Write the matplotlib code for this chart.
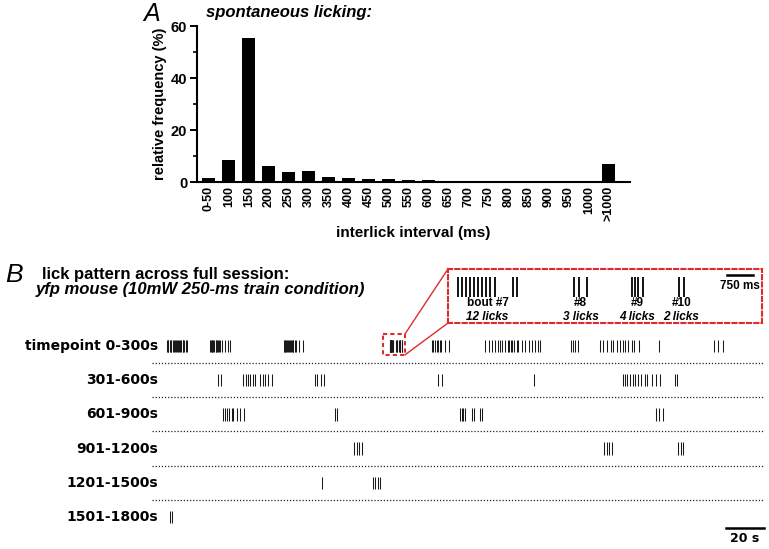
import numpy as np
import matplotlib
matplotlib.use('Agg')
import matplotlib.pyplot as plt
from matplotlib.patches import Rectangle, ConnectionPatch
from matplotlib.transforms import blended_transform_factory

# ---- panel A data: interlick interval histogram
ili_bins = ['0-50', '100', '150', '200', '250', '300', '350', '400', '450', '500',
            '550', '600', '650', '700', '750', '800', '850', '900', '950', '1000', '>1000']
ili_freq = [1.5, 8.3, 55.4, 6.2, 3.7, 4.1, 1.8, 1.5, 1.3, 1.0,
            0.8, 0.6, 0.5, 0.35, 0.25, 0.25, 0.1, 0.1, 0.1, 0.05, 7.1]

# ---- panel B data: lick times (s, within each 300 s row)
row_labels = ['timepoint 0-300s', '301-600s', '601-900s', '901-1200s', '1201-1500s', '1501-1800s']

row0_licks = [1.0, 1.4, 1.8, 2.6, 3.0, 3.4, 4.3, 4.7, 5.1, 5.9, 6.3, 6.7, 7.6, 8.0, 8.4,
              9.3, 9.7, 10.1, 10.9, 11.4,
              23.7, 24.1, 24.5, 25.0, 25.4, 25.8, 26.6, 27.0, 27.4, 28.0, 28.4, 29.1,
              30.2, 31.6, 33.2, 34.2,
              62.6, 63.0, 63.4, 63.9, 64.3, 64.7, 65.5, 65.9, 66.3, 66.8, 67.2, 67.6,
              68.4, 68.8, 70.5, 72.6,
              140.5, 141.1, 142.1, 143.2, 143.7, 144.7, 145.3, 147.4, 149.5,
              168.4, 170.5, 172.1, 173.7, 175.3, 176.3, 177.4, 178.9, 180.5, 181.1,
              182.1, 182.6, 183.7, 185.3, 185.8, 187.9, 189.5, 191.6, 193.2, 194.7,
              196.3, 197.4,
              213.7, 214.7, 215.8, 217.4,
              228.9, 230.5, 232.6, 234.7, 235.8, 237.9, 239.5, 241.1, 242.1, 243.7,
              245.8, 246.8, 249.5,
              260.0,
              288.9, 291.1, 293.7]
row1_licks = [27.9, 29.5, 41.1, 42.6, 43.7, 44.7, 46.3, 47.4, 50.0, 51.6, 52.6, 54.2, 56.3,
              78.9, 80.0, 82.1, 83.7, 143.7, 145.8, 194.2,
              241.1, 242.1, 243.2, 244.7, 246.3, 247.4, 248.9, 250.5, 252.6, 253.7,
              256.3, 258.4, 260.5, 268.4, 269.5]
row2_licks = [30.5, 31.6, 32.6, 33.7, 35.3, 35.8, 37.9, 39.5, 41.6, 89.5, 90.5,
              155.3, 156.3, 156.8, 157.9, 161.6, 162.6, 165.8, 166.8,
              258.4, 260.0, 262.1]
row3_licks = [99.5, 101.1, 102.1, 103.7, 231.1, 232.6, 233.7, 235.3, 270.0, 271.6, 272.6]
row4_licks = [82.6, 109.5, 110.5, 112.1, 113.2]
row5_licks = [2.6, 3.7]

# zoomed bouts of row 0 (offsets in s from box_start)
box_start = 118.4
bout_names = ['bout #7', '#8', '#9', '#10']
bout_offsets = [
    [0.0, 0.12, 0.23, 0.35, 0.46, 0.58, 0.69, 0.81, 0.92, 1.07, 1.58, 1.70],
    [3.34, 3.49, 3.72],
    [5.01, 5.10, 5.19, 5.33],
    [6.37, 6.51],
]

W, H = 769, 549
RED = '#e12a2a'


def fx(px):
    return px / W


def fy(py):
    return 1 - py / H


fig = plt.figure(figsize=(W / 100, H / 100), dpi=100)
arial = 'Liberation Sans'
verdana = 'DejaVu Sans'

# ================= panel A
axA = fig.add_axes([fx(197), fy(182), fx(630) - fx(197), fy(26) - fy(182)])
xpos = np.arange(len(ili_bins))
axA.bar(xpos, ili_freq, width=0.65, color='black')
axA.set_xlim(-0.6, 21.05)
axA.set_ylim(0, 60)
axA.set_yticks([0, 20, 40, 60])
axA.set_yticks([10, 30, 50], minor=True)
axA.set_xticks(xpos)
axA.set_xticklabels(ili_bins, rotation=90, fontsize=9, fontweight='bold', family=arial)
for lab in axA.get_yticklabels():
    lab.set_fontsize(10.5)
    lab.set_fontweight('bold')
    lab.set_family(arial)
axA.tick_params(axis='x', length=0, pad=3)
axA.tick_params(axis='y', which='major', length=5, width=1.4, pad=2)
axA.tick_params(axis='y', which='minor', length=3, width=1.2)
for s in ['top', 'right']:
    axA.spines[s].set_visible(False)
for s in ['left', 'bottom']:
    axA.spines[s].set_linewidth(1.5)
axA.set_ylabel('relative frequency (%)', fontsize=10.5, fontweight='bold', family=arial,
               labelpad=3)
axA.set_xlabel('interlick interval (ms)', fontsize=11, fontweight='bold', family=arial,
               labelpad=3)

fig.text(fx(143), fy(21), 'A', fontsize=18, style='italic', family=arial)
fig.text(fx(206), fy(17), 'spontaneous licking:', fontsize=12, fontweight='bold',
         style='italic', family=arial)

# ================= panel B raster
rows = [row0_licks, row1_licks, row2_licks, row3_licks, row4_licks, row5_licks]
inset_licks = [box_start + o for bout in bout_offsets for o in bout]
rows[0] = sorted(rows[0] + inset_licks)

axB = fig.add_axes([fx(152), 0, fx(765) - fx(152), fy(330)])
axB.eventplot(rows, lineoffsets=np.arange(len(rows)), linelengths=0.36,
              linewidths=0.75, colors='#1a1a1a')
axB.set_xlim(-6.84, 315.8)
axB.set_ylim(5.936, -0.468)
axB.axis('off')
for i in range(len(rows) - 1):
    axB.axhline(i + 0.5, color='#222222', lw=0.9, ls=(0, (1, 1.5)))

trans = blended_transform_factory(fig.transFigure, axB.transData)
for i, lab in enumerate(row_labels):
    axB.text(fx(158), i, lab, transform=trans, ha='right', va='center',
             fontsize=10, fontweight='bold', family=verdana)

# 20 s scale bar
axB.plot([295.3, 315.3], [5.32, 5.32], color='black', lw=1.8, clip_on=False)
axB.text(305.3, 5.64, '20 s', ha='center', va='center', fontsize=9,
         fontweight='bold', family=verdana)

fig.text(fx(5), fy(282), 'B', fontsize=19, style='italic', family=arial)
fig.text(fx(42), fy(279), 'lick pattern across full session:', fontsize=12,
         fontweight='bold', family=arial)
fig.text(fx(36), fy(294), 'yfp mouse (10mW 250-ms train condition)', fontsize=12,
         fontweight='bold', style='italic', family=arial)

# small dashed box around the zoomed bouts
box_x0, box_x1 = box_start - 3.7, box_start + 7.9
box_y0, box_y1 = -0.35, 0.26
axB.add_patch(Rectangle((box_x0, box_y0), box_x1 - box_x0, box_y1 - box_y0, fill=False,
                        edgecolor=RED, lw=1.5, ls=(0, (2, 1.5)), clip_on=False))

# ================= inset
axI = fig.add_axes([fx(448), fy(323), fx(762) - fx(448), fy(269) - fy(323)])
axI.eventplot(inset_licks, lineoffsets=0.333, linelengths=0.37, linewidths=1.3,
              colors='black')
axI.set_xlim(box_start - 0.29, box_start + 8.76)
axI.set_ylim(1, 0)
axI.set_xticks([])
axI.set_yticks([])
for s in axI.spines.values():
    s.set_edgecolor(RED)
    s.set_linewidth(1.5)
    s.set_linestyle((0, (2, 1.5)))

for name, bout in zip(bout_names, bout_offsets):
    xc = box_start + (bout[0] + bout[-1]) / 2
    axI.text(xc, 0.63, name, ha='center', va='center', fontsize=8.5,
             fontweight='bold', family=arial)
    axI.text(xc, 0.89, f'{len(bout)} licks', ha='center', va='center', fontsize=8.5,
             fontweight='bold', style='italic', family=arial)

axI.plot([box_start + 7.75, box_start + 8.5], [0.11, 0.11], color='black', lw=1.8)
axI.text(box_start + 8.12, 0.31, '750 ms', ha='center', va='center', fontsize=8.5,
         fontweight='bold', family=arial)

for yA, yB in [(box_y0, 1), (box_y1, 0)]:
    con = ConnectionPatch(xyA=(box_x1, yA), xyB=(0, yB), coordsA=axB.transData,
                          coordsB=axI.transAxes, color=RED, lw=1)
    fig.add_artist(con)

fig.savefig('out.png', dpi=100)
